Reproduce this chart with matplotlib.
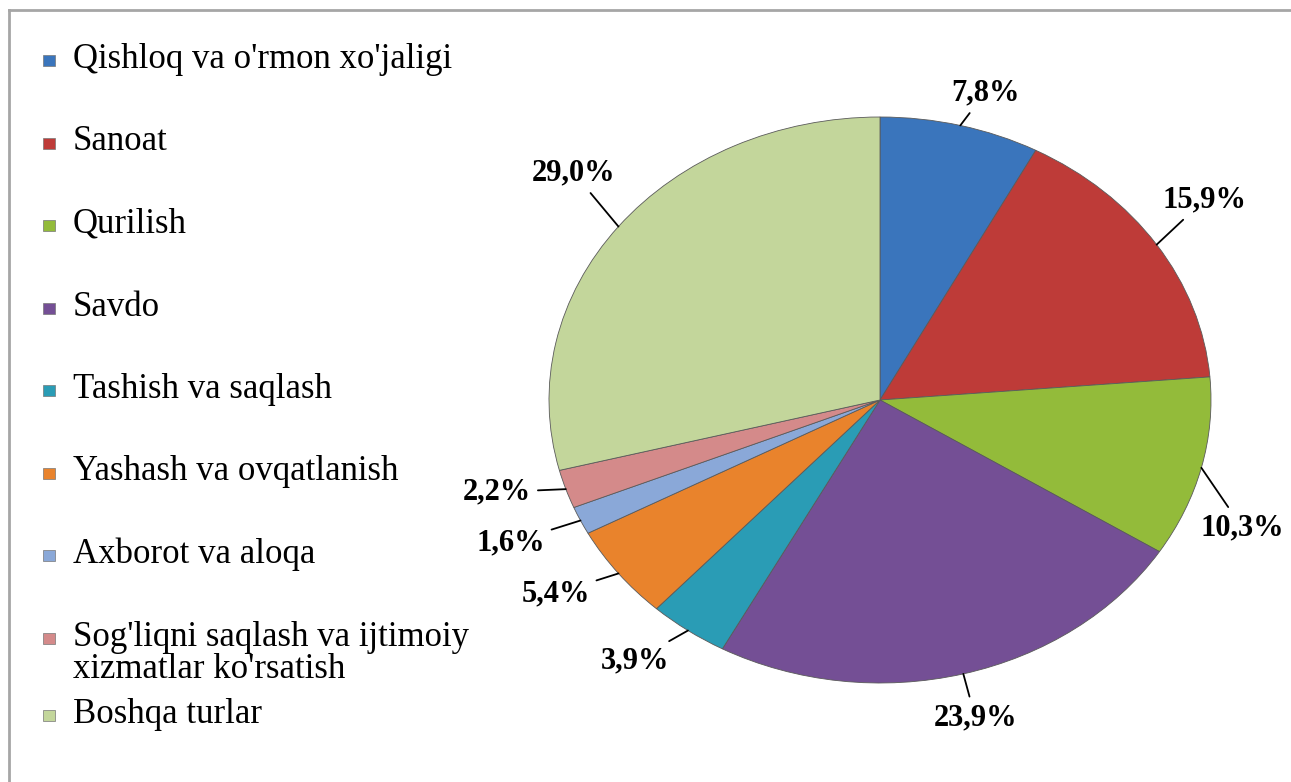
import numpy as np
import matplotlib
matplotlib.use('Agg')
import matplotlib.pyplot as plt
from matplotlib.patches import Rectangle
from matplotlib.lines import Line2D

# sectors and their shares (%)
sectors = ["Qishloq va o'rmon xo'jaligi", "Sanoat", "Qurilish", "Savdo",
           "Tashish va saqlash", "Yashash va ovqatlanish", "Axborot va aloqa",
           "Sog'liqni saqlash va ijtimoiy\nxizmatlar ko'rsatish", "Boshqa turlar"]
shares = [7.8, 15.9, 10.3, 23.9, 3.9, 5.4, 1.6, 2.2, 29.0]
colors = ['#3A75BC', '#BE3B38', '#93BB3A', '#744F95', '#2A9CB5',
          '#E9832C', '#8AA8D8', '#D48A8A', '#C3D69B']

# where each % label sits relative to its wedge edge (pixels, up = +)
label_offsets = [(25, 33), (48, 45), (41, -60), (12, -44), (-53, -30),
                 (-63, -20), (-70, -22), (-69, -3), (-45, 54)]

W, H = 1291, 782
fig = plt.figure(figsize=(W / 100, H / 100), dpi=100)
font = 'Liberation Serif'

# pie as a stretched ellipse
cx, cy, rx, ry = 880, 400, 331, 283
ax = fig.add_axes([(cx - rx) / W, (H - cy - ry) / H, 2 * rx / W, 2 * ry / H])
wedges, _ = ax.pie(shares, colors=colors, startangle=90, counterclock=False,
                   wedgeprops=dict(edgecolor='#5a5a5a', linewidth=0.6))
ax.set_aspect('auto')
ax.set_xlim(-1, 1)
ax.set_ylim(-1, 1)

# percentage labels with leader lines
for w, v, off in zip(wedges, shares, label_offsets):
    ang = np.deg2rad((w.theta1 + w.theta2) / 2)
    x, y = np.cos(ang), np.sin(ang)
    ax.annotate(f"{v:.1f}%".replace('.', ','), xy=(x, y), xytext=off,
                textcoords='offset pixels',
                ha='center', va='center', fontsize=22, fontweight='bold', family=font,
                arrowprops=dict(arrowstyle='-', color='black', lw=1.3,
                                shrinkA=3, shrinkB=0))

# legend drawn by hand (Excel style)
ax_leg = fig.add_axes([0, 0, 1, 1], facecolor='none')
ax_leg.set_xlim(0, W)
ax_leg.set_ylim(H, 0)
ax_leg.axis('off')
step, line_h = 82.5, 32
for i, (name, c) in enumerate(zip(sectors, colors)):
    base = 68 + step * i
    if i == len(sectors) - 1:
        base -= 5
    ax_leg.add_patch(Rectangle((43, base - 13), 12, 11, facecolor=c,
                               edgecolor='#777777', linewidth=0.5))
    for k, line in enumerate(name.split('\n')):
        ax_leg.text(73, base + k * line_h, line, ha='left', va='baseline',
                    fontsize=25, family=font)

# outer frame
ax_leg.add_line(Line2D([8.5, W], [9.5, 9.5], color='#A6A6A6', lw=2))
ax_leg.add_line(Line2D([8.5, 8.5], [9.5, H], color='#A6A6A6', lw=2))

fig.savefig('out.png', dpi=100)
